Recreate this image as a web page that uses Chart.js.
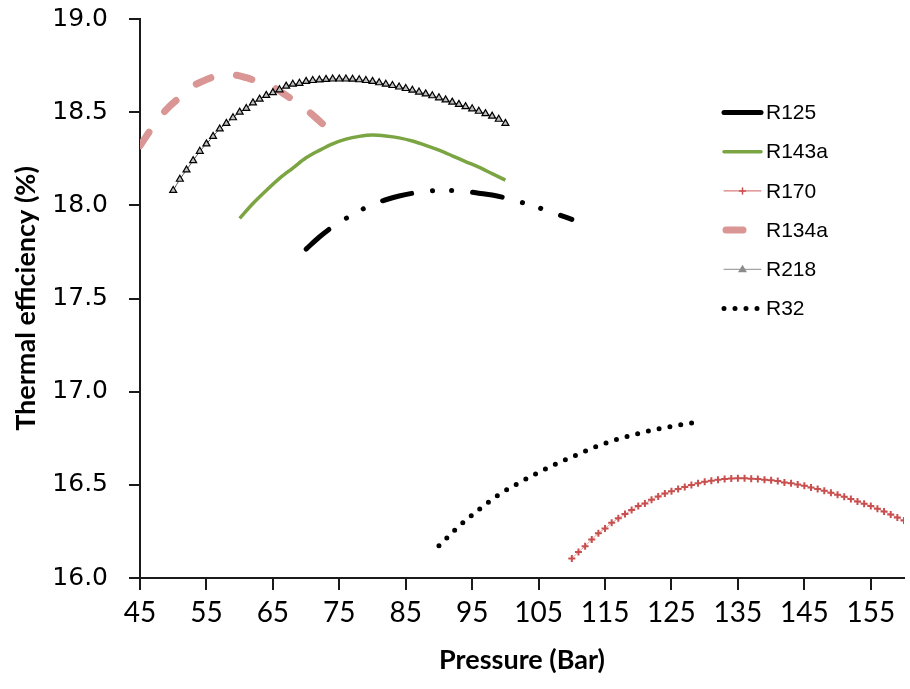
<!DOCTYPE html>
<html>
<head>
<meta charset="utf-8">
<script src="https://cdn.jsdelivr.net/npm/chart.js@4.4.1/dist/chart.umd.min.js"></script>
<style>
  html, body { margin: 0; padding: 0; background: #ffffff; }
</style>
</head>
<body>
<canvas id="effChart" width="910" height="689"></canvas>
<script>
// pressure (bar) / thermal efficiency (%)
const r125X = [70, 72, 74, 76, 78, 80, 82, 84, 86, 88, 90, 92, 94, 96, 98, 100, 102, 104, 106, 108, 110];
const r125Y = [17.765, 17.83, 17.885, 17.93, 17.97, 18.005, 18.03, 18.05, 18.065, 18.075, 18.08,
               18.08, 18.075, 18.065, 18.055, 18.04, 18.02, 18.0, 17.975, 17.95, 17.925];

const r143aX = [60, 62, 64, 66, 68, 70, 72, 74, 76, 78, 80, 82, 84, 86, 88, 90, 92, 94, 96, 98, 100];
const r143aY = [17.93, 18.01, 18.08, 18.145, 18.2, 18.255, 18.295, 18.33, 18.355, 18.37, 18.377,
                18.372, 18.362, 18.345, 18.322, 18.296, 18.266, 18.235, 18.205, 18.17, 18.135];

const r170X = [110, 111, 112, 113, 114, 115, 116, 117, 118, 119, 120, 121, 122, 123, 124, 125, 126,
               127, 128, 129, 130, 131, 132, 133, 134, 135, 136, 137, 138, 139, 140, 141, 142, 143,
               144, 145, 146, 147, 148, 149, 150, 151, 152, 153, 154, 155, 156, 157, 158, 159, 160];
const r170Y = [16.105, 16.14, 16.171, 16.207, 16.24, 16.266, 16.296, 16.32, 16.343, 16.365, 16.386,
               16.4, 16.42, 16.438, 16.453, 16.466, 16.477, 16.489, 16.499, 16.508, 16.516, 16.522,
               16.527, 16.531, 16.534, 16.535, 16.535, 16.533, 16.531, 16.527, 16.524, 16.52, 16.513,
               16.508, 16.502, 16.495, 16.486, 16.477, 16.468, 16.457, 16.447, 16.436, 16.424, 16.411,
               16.398, 16.386, 16.371, 16.357, 16.341, 16.325, 16.308];

const r134aX = [45, 47, 49, 51, 53, 55, 57, 59, 61, 63, 65, 67, 69, 71, 73];
const r134aY = [18.32, 18.425, 18.515, 18.58, 18.64, 18.675, 18.698, 18.7, 18.685, 18.66, 18.635,
                18.59, 18.54, 18.485, 18.42];

const r218X = [50, 51, 52, 53, 54, 55, 56, 57, 58, 59, 60, 61, 62, 63, 64, 65, 66, 67, 68, 69, 70,
               71, 72, 73, 74, 75, 76, 77, 78, 79, 80, 81, 82, 83, 84, 85, 86, 87, 88, 89, 90,
               91, 92, 93, 94, 95, 96, 97, 98, 99, 100];
const r218Y = [18.08, 18.14, 18.19, 18.24, 18.29, 18.33, 18.37, 18.41, 18.44, 18.47, 18.5, 18.52,
               18.55, 18.57, 18.59, 18.605, 18.62, 18.64, 18.65, 18.655, 18.665, 18.67, 18.673,
               18.676, 18.678, 18.678, 18.678, 18.677, 18.674, 18.67, 18.665, 18.658, 18.65, 18.643,
               18.635, 18.627, 18.618, 18.608, 18.598, 18.588, 18.577, 18.566, 18.554, 18.542, 18.53,
               18.518, 18.505, 18.492, 18.479, 18.462, 18.44];

const r32X = [90, 93, 96, 99, 102, 105, 108, 111, 114, 117, 120, 123, 126, 129];
const r32Y = [16.173, 16.278, 16.367, 16.447, 16.51, 16.567, 16.618, 16.665, 16.71, 16.746, 16.775,
              16.8, 16.82, 16.837];

const xTicks = [45, 55, 65, 75, 85, 95, 105, 115, 125, 135, 145, 155];
const yTicks = [16.0, 16.5, 17.0, 17.5, 18.0, 18.5, 19.0];

function pts(xs, ys) {
  return xs.map((x, i) => ({ x: x, y: ys[i] }));
}

// legend drawn inside the plot, on the right
const legendBox = {
  id: 'legendBox',
  afterDraw(chart) {
    const ctx = chart.ctx;
    const x0 = 724, x1 = 761;
    chart.data.datasets.forEach((ds, i) => {
      const y = 112.5 + i * 39.2;
      ctx.save();
      ctx.lineCap = 'round';
      ctx.strokeStyle = ds.legendColor || ds.borderColor;
      if (ds.label === 'R125' || ds.label === 'R143a') {
        ctx.lineWidth = ds.borderWidth;
        ctx.beginPath(); ctx.moveTo(x0, y); ctx.lineTo(x1, y); ctx.stroke();
      } else if (ds.label === 'R170') {
        ctx.lineWidth = 1;
        ctx.beginPath(); ctx.moveTo(x0, y); ctx.lineTo(x1, y); ctx.stroke();
        ctx.strokeStyle = ds.pointBorderColor;
        ctx.lineWidth = 1.5;
        ctx.beginPath();
        ctx.moveTo((x0 + x1) / 2 - 3, y); ctx.lineTo((x0 + x1) / 2 + 3, y);
        ctx.moveTo((x0 + x1) / 2, y - 3); ctx.lineTo((x0 + x1) / 2, y + 3);
        ctx.stroke();
      } else if (ds.label === 'R134a') {
        ctx.lineWidth = ds.borderWidth;
        ctx.beginPath(); ctx.moveTo(x0 + 2, y); ctx.lineTo(x0 + 19, y); ctx.stroke();
      } else if (ds.label === 'R218') {
        ctx.lineWidth = 1;
        ctx.strokeStyle = '#8c8c8c';
        ctx.beginPath(); ctx.moveTo(x0, y); ctx.lineTo(x1, y); ctx.stroke();
        const cx = (x0 + x1) / 2;
        ctx.fillStyle = '#8c8c8c';
        ctx.beginPath();
        ctx.moveTo(cx, y - 4.5); ctx.lineTo(cx + 4.5, y + 3); ctx.lineTo(cx - 4.5, y + 3);
        ctx.closePath(); ctx.fill();
      } else {
        ctx.lineWidth = ds.borderWidth;
        ctx.setLineDash(ds.borderDash);
        ctx.beginPath(); ctx.moveTo(x0, y); ctx.lineTo(x1 + 1, y); ctx.stroke();
      }
      ctx.restore();
      ctx.save();
      ctx.fillStyle = '#000000';
      ctx.font = '21px "Liberation Sans", Arial, sans-serif';
      ctx.textBaseline = 'middle';
      ctx.fillText(ds.label, 766, y + 1);
      ctx.restore();
    });
  }
};

window.addEventListener('DOMContentLoaded', () => {
  const ctx = document.getElementById('effChart').getContext('2d');

  const data = {
    datasets: [
      {
        label: 'R125',
        data: pts(r125X, r125Y),
        borderColor: '#000000',
        borderWidth: 5,
        borderDash: [30, 21, 0.1, 19, 0.1, 21],
        borderCapStyle: 'round',
        pointRadius: 0
      },
      {
        label: 'R143a',
        data: pts(r143aX, r143aY),
        borderColor: '#7aa542',
        borderWidth: 3.5,
        pointRadius: 0
      },
      {
        label: 'R170',
        data: pts(r170X, r170Y),
        borderColor: 'rgba(205, 95, 95, 0.6)',
        borderWidth: 1,
        pointStyle: 'cross',
        pointRadius: 3.5,
        pointBorderWidth: 2,
        pointBorderColor: '#c94f4f',
        legendColor: '#d06060'
      },
      {
        label: 'R134a',
        data: pts(r134aX, r134aY),
        borderColor: '#d99694',
        borderWidth: 7,
        borderDash: [16, 26],
        borderCapStyle: 'round',
        pointRadius: 0,
        clip: 0
      },
      {
        label: 'R218',
        data: pts(r218X, r218Y),
        borderColor: '#555555',
        borderWidth: 1,
        pointStyle: 'triangle',
        pointRadius: 4,
        pointBorderWidth: 1.2,
        pointBorderColor: '#000000',
        pointBackgroundColor: '#bfbfbf',
        order: -1
      },
      {
        label: 'R32',
        data: pts(r32X, r32Y),
        borderColor: '#000000',
        borderWidth: 5,
        borderDash: [0, 11],
        borderCapStyle: 'round',
        pointRadius: 0
      }
    ]
  };

  const config = {
    type: 'line',
    data: data,
    plugins: [legendBox],
    options: {
      responsive: false,
      animation: false,
      layout: { padding: { top: 19, right: 3, left: 0, bottom: 0 } },
      elements: { line: { cubicInterpolationMode: 'monotone' } },
      plugins: {
        legend: { display: false },
        tooltip: { enabled: false }
      },
      scales: {
        x: {
          type: 'linear',
          min: 45,
          max: 160,
          afterBuildTicks: (scale) => { scale.ticks = xTicks.map(v => ({ value: v })); },
          afterFit: (scale) => { scale.height = 111; },
          border: { color: '#1a1a1a', width: 2 },
          grid: { drawOnChartArea: false, drawTicks: true, tickLength: 12, color: '#1a1a1a', lineWidth: 2 },
          ticks: {
            color: '#000000',
            padding: 6,
            maxRotation: 0,
            font: { family: 'Lato, "Open Sans", sans-serif', size: 28 }
          },
          title: {
            display: true,
            text: 'Pressure (Bar)',
            color: '#000000',
            padding: { top: 0, bottom: 13 },
            font: { family: 'Lato, "Open Sans", sans-serif', size: 27, weight: 'bold' }
          }
        },
        y: {
          type: 'linear',
          min: 16,
          max: 19,
          afterBuildTicks: (scale) => { scale.ticks = yTicks.map(v => ({ value: v })); },
          afterFit: (scale) => {
            scale.width = 140;
            scale.paddingTop = 0;
            scale.paddingBottom = 0;
          },
          border: { color: '#1a1a1a', width: 2 },
          grid: { drawOnChartArea: false, drawTicks: true, tickLength: 11, color: '#1a1a1a', lineWidth: 2 },
          ticks: {
            color: '#000000',
            padding: 21,
            callback: (v) => Number(v).toFixed(1),
            font: { family: '"DejaVu Sans", Verdana, sans-serif', size: 25 }
          },
          title: {
            display: true,
            text: 'Thermal efficiency (%)',
            color: '#000000',
            padding: { top: 10, bottom: 0 },
            font: { family: 'Lato, "Open Sans", sans-serif', size: 27, weight: 'bold' }
          }
        }
      }
    }
  };

  new Chart(ctx, config);
});
</script>
</body>
</html>
